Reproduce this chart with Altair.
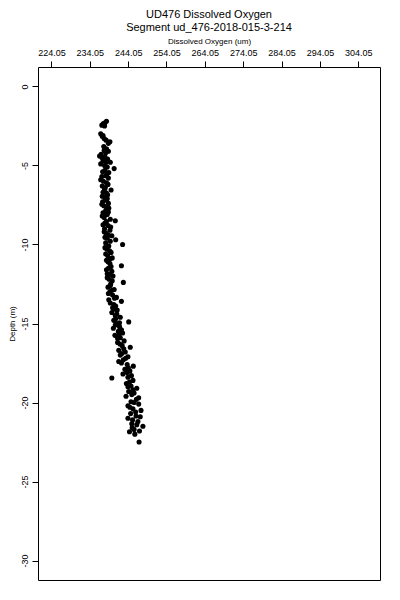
import altair as alt
import pandas as pd

depth = [
    -2.2, -2.35, -2.45, -2.5, -3.0, -3.15, -3.3, -3.5, -3.6, -3.95, -4.1, -4.05, -4.3, -4.4, -4.45,
    -4.6, -4.7, -4.8, -4.8, -5.0, -5.2, -5.3, -5.4, -5.55, -5.7, -5.8, -6.0, -6.1, -6.3, -6.4,
    -6.55, -6.7, -6.85, -7.0, -7.1, -7.3, -7.4, -7.55, -7.7, -7.85, -8.0, -8.1, -8.3, -8.4, -8.5,
    -8.65, -8.8, -9.0, -9.1, -9.3, -9.45, -9.6, -9.7, -9.9, -10.0, -10.1, -10.3, -10.5, -10.7, -10.85,
    -11.0, -11.2, -11.35, -11.5, -11.7, -11.85, -12.0, -12.2, -12.4, -12.5, -12.7, -12.85, -13.0, -13.2, -13.35,
    -13.5, -13.6, -13.8, -14.0, -14.15, -14.3, -14.5, -14.6, -14.8, -14.9, -15.0, -15.2, -15.3, -15.5, -15.6,
    -15.75, -15.9, -16.1, -16.2, -16.4, -16.5, -16.7, -16.8, -17.0, -17.1, -17.3, -17.4, -17.6, -17.7, -17.9,
    -18.0, -18.2, -18.4, -18.45, -18.6, -18.8, -18.95, -19.1, -19.3, -19.4, -19.6, -19.8, -19.95, -20.1, -20.2,
    -20.4, -20.5, -20.7, -20.85, -21.0, -21.2, -21.35, -21.5, -21.7, -21.85, -22.5,
    -2.3, -3.1, -3.4, -3.8, -4.2, -4.5, -4.9, -5.1, -5.45, -5.65, -5.9, -6.2, -6.5, -6.75, -6.95,
    -7.2, -7.45, -7.65, -7.95, -8.2, -8.55, -8.75, -8.9, -9.2, -9.4, -9.55, -9.8, -10.2, -10.4, -10.6,
    -10.9, -11.1, -11.4, -11.6, -11.9, -12.1, -12.3, -12.6, -12.9, -13.1, -13.4, -13.7, -13.9, -14.1, -14.4,
    -14.7, -14.95, -15.1, -15.4, -15.7, -15.95, -16.3, -16.6, -16.9, -17.2, -17.5, -17.8, -18.1, -18.3, -18.7,
    -19.0, -19.2, -19.5, -19.7, -20.0, -20.3, -20.6, -20.9, -21.1, -21.4, -21.6, -21.8, -22.0,
]
oxygen = [
    238.4, 237.6, 237.2, 237.9, 236.9, 237.3, 237.8, 239.3, 238.9, 238.4, 238.9, 237.8, 237.0, 236.6, 238.0,
    238.7, 237.5, 238.3, 239.4, 237.9, 240.4, 238.0, 237.4, 238.5, 237.2, 238.9, 237.6, 238.4, 237.3, 238.1,
    239.6, 237.5, 238.7, 237.9, 238.6, 237.4, 238.9, 237.7, 239.0, 238.2, 237.5, 238.6, 237.8, 239.4, 240.7,
    238.0, 238.8, 237.9, 239.3, 238.3, 239.8, 238.6, 240.8, 238.2, 242.6, 239.0, 238.5, 239.6, 238.7, 239.9,
    238.4, 239.3, 242.3, 238.9, 239.8, 238.6, 240.1, 239.1, 242.8, 239.5, 238.8, 240.4, 239.3, 240.0, 241.0,
    239.0, 242.3, 240.3, 240.0, 241.2, 239.8, 240.7, 242.0, 240.3, 244.2, 241.0, 241.8, 240.2, 241.5, 242.6,
    240.6, 242.0, 243.0, 241.3, 242.5, 244.6, 241.6, 243.3, 242.0, 244.0, 242.8, 241.6, 243.8, 245.4, 243.2,
    244.5, 242.7, 244.0, 239.8, 245.3, 243.6, 244.8, 246.3, 244.2, 245.6, 243.5, 246.2, 244.8, 246.8, 244.0,
    245.3, 247.4, 244.7, 246.1, 244.0, 246.6, 245.0, 247.9, 245.6, 244.4, 246.9,
    238.0, 237.5, 238.3, 237.7, 238.2, 237.2, 236.9, 238.6, 239.0, 238.2, 236.9, 238.8, 237.9, 238.4, 237.3,
    238.1, 237.2, 238.4, 238.9, 237.3, 238.4, 237.5, 239.5, 237.8, 238.9, 238.0, 239.4, 238.0, 239.2, 238.2,
    239.4, 238.8, 239.6, 238.4, 239.2, 238.6, 239.9, 239.4, 239.8, 238.9, 240.5, 239.4, 240.8, 240.4, 241.1,
    240.8, 241.8, 240.7, 242.3, 241.7, 241.3, 241.9, 242.9, 242.4, 243.4, 242.3, 244.1, 243.8, 244.9, 244.4,
    244.0, 245.3, 245.0, 246.8, 245.6, 244.5, 246.0, 247.2, 245.2, 246.3, 245.1, 247.0, 245.8,
]

x_ticks = [224.05, 234.05, 244.05, 254.05, 264.05, 274.05, 284.05, 294.05, 304.05]
y_ticks = [0, -5, -10, -15, -20, -25, -30]

df = pd.DataFrame({"depth": depth, "oxygen": oxygen})

FONT = "Liberation Sans"

chart = alt.Chart(df).mark_circle(size=26, color="black", opacity=1).encode(
    x=alt.X(
        "oxygen:Q",
        scale=alt.Scale(domain=[220.55, 309.71], nice=False, zero=False),
        axis=alt.Axis(
            orient="top", values=x_ticks, format=".2f", title="Dissolved Oxygen (um)",
            grid=False, domain=False, tickSize=6, tickColor="black", labelColor="black",
            labelFont=FONT, labelFontSize=9, labelPadding=4, titleFont=FONT, titleFontSize=8,
            titleFontWeight="normal", titleColor="black", titlePadding=3, labelAngle=0,
        ),
    ),
    y=alt.Y(
        "depth:Q",
        scale=alt.Scale(domain=[-31.23, 1.23], nice=False, zero=False),
        axis=alt.Axis(
            values=y_ticks, labelExpr="datum.value + ''", title="Depth (m)",
            grid=False, domain=False, tickSize=6, tickColor="black", labelColor="black",
            labelFont=FONT, labelFontSize=9, labelAngle=-90, labelAlign="center",
            labelBaseline="bottom", labelPadding=3, titleFont=FONT, titleFontSize=8,
            titleFontWeight="normal", titleColor="black", titlePadding=4,
        ),
    ),
).properties(
    width=342,
    height=513,
    title=alt.TitleParams(
        text="UD476 Dissolved Oxygen",
        subtitle="Segment ud_476-2018-015-3-214",
        font=FONT, fontSize=11, fontWeight="normal", color="black",
        subtitleFont=FONT, subtitleFontSize=11, subtitleColor="black",
        anchor="middle", offset=4, subtitlePadding=2,
    ),
    autosize="none",
    padding={"left": 30, "top": 59, "right": 12, "bottom": 12},
).configure_view(stroke="black", strokeWidth=1)

chart.save("out.html", embed_options={"renderer": "svg", "actions": False})
